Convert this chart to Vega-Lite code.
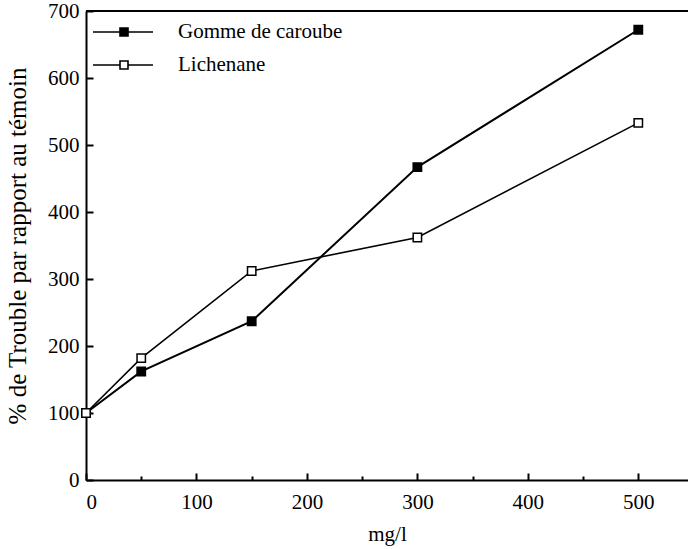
{
  "$schema": "https://vega.github.io/schema/vega-lite/v6.json",
  "width": 602,
  "height": 469,
  "autosize": {"type": "none"},
  "padding": {"left": 86, "top": 11, "right": 0, "bottom": 69},
  "background": "white",
  "config": {
    "view": {"stroke": null},
    "font": "Liberation Serif",
    "axis": {
      "labelFont": "Liberation Serif",
      "titleFont": "Liberation Serif",
      "labelFontSize": 21,
      "titleFontSize": 21,
      "labelColor": "black",
      "titleColor": "black",
      "titleFontWeight": "normal",
      "domainColor": "black",
      "domainWidth": 2,
      "tickColor": "black",
      "tickWidth": 2,
      "grid": false
    },
    "legend": {
      "labelFont": "Liberation Serif",
      "labelFontSize": 21,
      "labelColor": "black",
      "labelLimit": 0
    }
  },
  "data": {
    "values": [
      {"serie": "Gomme de caroube", "x": 0, "y": 100},
      {"serie": "Gomme de caroube", "x": 50, "y": 162},
      {"serie": "Gomme de caroube", "x": 150, "y": 237},
      {"serie": "Gomme de caroube", "x": 300, "y": 467},
      {"serie": "Gomme de caroube", "x": 500, "y": 672},
      {"serie": "Lichenane", "x": 0, "y": 100},
      {"serie": "Lichenane", "x": 50, "y": 182},
      {"serie": "Lichenane", "x": 150, "y": 312},
      {"serie": "Lichenane", "x": 300, "y": 362},
      {"serie": "Lichenane", "x": 500, "y": 533}
    ]
  },
  "layer": [
    {
      "mark": {"type": "rule", "color": "black", "strokeWidth": 2},
      "encoding": {"y": {"datum": 700, "type": "quantitative", "scale": {"domain": [0, 700]}}}
    },
    {
      "mark": {"type": "line", "color": "black"},
      "encoding": {
        "x": {
          "field": "x", "type": "quantitative",
          "scale": {"domain": [0, 545], "nice": false},
          "axis": {
            "title": "mg/l",
            "values": [0, 50, 100, 150, 200, 250, 300, 350, 400, 450, 500],
            "labelExpr": "datum.value % 100 == 0 ? datum.label : ''",
            "tickSize": {"condition": {"test": "datum.value % 100 != 0", "value": -4}, "value": -7},
            "labelPadding": 18,
            "titlePadding": 11
          }
        },
        "y": {
          "field": "y", "type": "quantitative",
          "scale": {"domain": [0, 700], "nice": false},
          "axis": {
            "title": "% de Trouble par rapport au témoin",
            "titleFontSize": 25,
            "values": [0, 100, 200, 300, 400, 500, 600, 700],
            "tickSize": -7,
            "labelPadding": 14,
            "titlePadding": 17
          }
        },
        "detail": {"field": "serie"},
        "strokeWidth": {"condition": {"test": "datum.serie == 'Lichenane'", "value": 1.6}, "value": 2}
      }
    },
    {
      "mark": {"type": "point", "shape": "square", "filled": false, "stroke": "black", "strokeWidth": 1.5, "size": 70, "opacity": 1},
      "encoding": {
        "x": {"field": "x", "type": "quantitative"},
        "y": {"field": "y", "type": "quantitative"},
        "fill": {
          "field": "serie", "type": "nominal",
          "scale": {"domain": ["Gomme de caroube", "Lichenane"], "range": ["black", "white"]},
          "legend": {
            "title": null,
            "orient": "none",
            "legendX": 26,
            "legendY": 10,
            "padding": 0,
            "symbolType": "M-3,0H-0.3M0.5,0H3M-0.3,-0.4H0.5V0.4H-0.3Z",
            "symbolSize": 400,
            "symbolStrokeColor": "black",
            "symbolStrokeWidth": 1.6,
            "symbolOpacity": 1,
            "labelOffset": 44,
            "rowPadding": 12
          }
        }
      }
    }
  ]
}
